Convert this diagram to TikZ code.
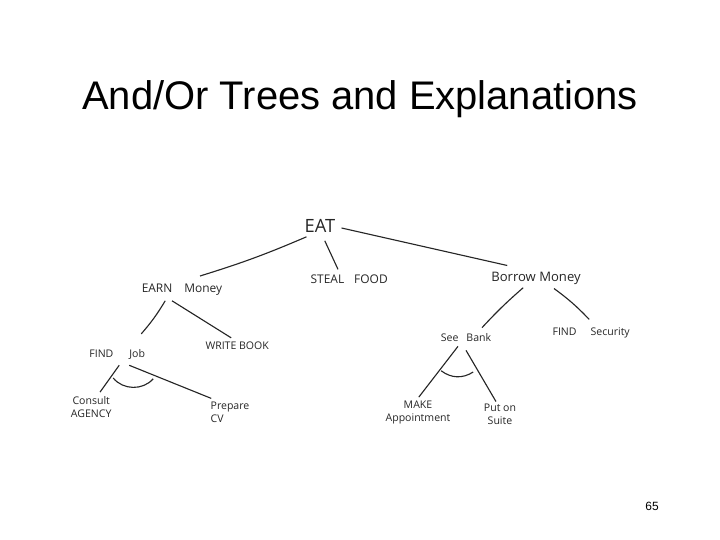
\documentclass[tikz,border=0pt]{standalone}
\usepackage{fontspec}
\setmainfont{Liberation Sans}
\newfontfamily\handfont{Open Sans}
\usetikzlibrary{positioning,calc}
\begin{document}
\begin{tikzpicture}[
  hand/.style={inner sep=0pt, align=center, text=black!85, font=\handfont\fontsize{7.5}{9}\selectfont},
  handbig/.style={hand, font=\handfont\fontsize{13}{15}\selectfont},
  handmid/.style={hand, font=\handfont\fontsize{8.5}{10}\selectfont},
  conn/.style={black!85, line width=0.8pt}
]
\useasboundingbox (0,0) rectangle (18,13.5);
% Title and page number
\node[font=\fontsize{28.4}{32}\selectfont, inner sep=0pt] (title) at (9.0,11.03) {And/Or Trees and Explanations};
\node[font=\fontsize{8.5}{10}\selectfont, inner sep=0pt] (pagenum) at (16.3,0.85) {65};

% Goal nodes
\node[handbig] (eat)     at ( 8.0,7.85) {EAT};
\node[handmid] (earn)    at ( 4.55,6.25) {EARN\hspace{0.3cm}Money};
\node[handmid] (steal)   at ( 8.73,6.53) {STEAL\hspace{0.25cm}FOOD};
\node[handmid, font=\handfont\fontsize{9.3}{11}\selectfont] (borrow) at (13.4,6.55) {Borrow Money};
\node[hand]    (write)   at ( 5.93,4.85) {WRITE BOOK};
\node[hand]    (findjob) at ( 2.93,4.65) {FIND\hspace{0.4cm}Job};
\node[hand]    (consult) at ( 2.28,3.33) {Consult\\AGENCY};
\node[hand, align=left] (prepare) at (5.75,3.2) {Prepare\\CV};
\node[hand]    (seebank) at (11.65,5.05) {See\hspace{0.2cm}Bank};
\node[hand]    (findsec) at (14.78,5.18) {FIND\hspace{0.35cm}Security};
\node[hand]    (make)    at (10.45,3.18) {MAKE\\Appointment};
\node[hand]    (put)     at (12.5,3.15) {Put on\\Suite};

% Arc ends
\coordinate (andjobl)  at (2.83,4.05);
\coordinate (andjobr)  at (3.83,4.03);
\coordinate (andbankl) at (11.03,4.23);
\coordinate (andbankr) at (11.83,4.2);

% Connectors
\draw[conn] ([xshift=0.05cm,yshift=-0.1cm]eat.south west) to[bend left=3] ([xshift=0.45cm,yshift=0.2cm]earn.north);
\draw[conn] ([xshift=0.12cm,yshift=-0.2cm]eat.south) -- ([xshift=-0.28cm,yshift=0.12cm]steal.north);
\draw[conn] ([xshift=0.15cm,yshift=-0.05cm]eat.east) -- ([xshift=-0.72cm,yshift=0.15cm]borrow.north);
\draw[conn] ([xshift=-0.42cm,yshift=-0.12cm]earn.south) to[bend left=5] ([xshift=0.6cm,yshift=0.37cm]findjob.north);
\draw[conn] ([xshift=-0.25cm,yshift=-0.12cm]earn.south) -- ([xshift=-0.15cm,yshift=0.1cm]write.north);
\draw[conn] ([xshift=0.05cm,yshift=-0.15cm]findjob.south) -- ([xshift=0.22cm,yshift=0.1cm]consult.north);
\draw[conn] ([xshift=0.3cm,yshift=-0.15cm]findjob.south) -- ([xshift=-0.47cm,yshift=0.08cm]prepare.north);
\draw[conn] ([xshift=-0.32cm,yshift=-0.08cm]borrow.south) to[bend right=3] ([xshift=0.4cm,yshift=0.15cm]seebank.north);
\draw[conn] ([xshift=0.45cm,yshift=-0.1cm]borrow.south) to[bend left=5] ([xshift=-0.05cm,yshift=0.2cm]findsec.north);
\draw[conn] ([xshift=-0.2cm,yshift=-0.1cm]seebank.south) -- ([xshift=0.02cm,yshift=0.1cm]make.north);
\draw[conn] ([yshift=-0.2cm]seebank.south) -- ([xshift=-0.1cm,yshift=0.05cm]put.north);
\draw[conn] (andjobl) to[bend right=50] (andjobr);
\draw[conn] (andbankl) to[bend right=35] (andbankr);
\end{tikzpicture}
\end{document}
